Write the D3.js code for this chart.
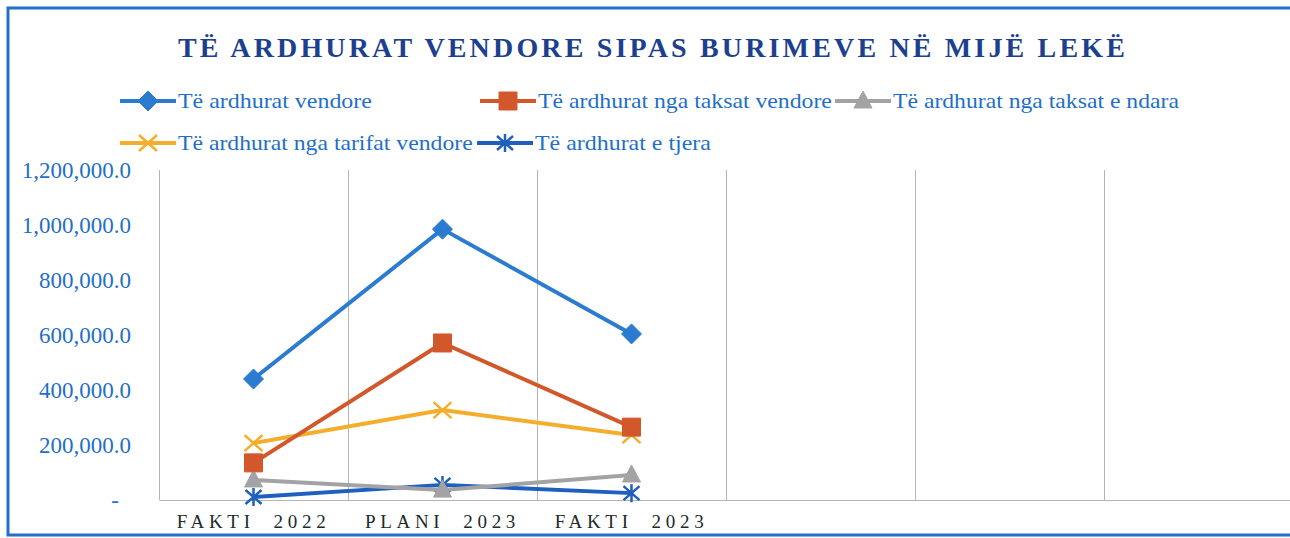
<!DOCTYPE html>
<html>
<head>
<meta charset="utf-8">
<script src="https://cdn.jsdelivr.net/npm/d3@7/dist/d3.min.js"></script>
<style>
  body { margin: 0; background: #fff; }
  svg { display: block; }
  text { font-family: "Liberation Serif", "DejaVu Serif", serif; }
</style>
</head>
<body>
<script>
// categories on the x axis (3 more empty slots follow them in the original)
var categories = ["FAKTI  2022", "PLANI  2023", "FAKTI  2023"];
var emptySlots = 3;

// values in thousand lek
var ardhuratVendore = [440000, 985000, 604000];
var taksatVendore   = [135000, 571000, 265000];
var taksatNdara     = [73000, 36000, 91000];
var tarifatVendore  = [207000, 327000, 236000];
var ardhuratTjera   = [11000, 55000, 25000];

var seriesNames = ["Të ardhurat vendore", "Të ardhurat nga taksat vendore",
                   "Të ardhurat nga taksat e ndara", "Të ardhurat nga tarifat vendore",
                   "Të ardhurat e tjera"];
var yTicks = [0, 200000, 400000, 600000, 800000, 1000000, 1200000];
var title = "TË ARDHURAT VENDORE SIPAS BURIMEVE NË MIJË LEKË";

var width = 1290, height = 538;
var margin = {left: 159, right: -3, top: 170, bottom: 38};

var series = [
  {name: seriesNames[0], values: ardhuratVendore, color: "#2b7bd1", marker: "diamond"},
  {name: seriesNames[1], values: taksatVendore,   color: "#d2582c", marker: "square"},
  {name: seriesNames[2], values: taksatNdara,     color: "#a3a3a6", marker: "triangle"},
  {name: seriesNames[3], values: tarifatVendore,  color: "#f4ae2c", marker: "x"},
  {name: seriesNames[4], values: ardhuratTjera,   color: "#1f5fbd", marker: "star"}
];

// legend layout: [x of the line sample, y, text width]
var legendPos = [[120, 101, 194], [480, 101, 294], [835, 101, 286], [120, 143, 295], [477, 143, 176]];

var svg = d3.select("body").append("svg")
    .attr("width", width)
    .attr("height", height);

// stretch a text to a given width with letter-spacing
function fitWidth(sel, w) {
  var n = sel.text().length;
  var natural = sel.node().getComputedTextLength();
  sel.style("letter-spacing", ((w - natural) / n) + "px");
}

// outer frame
svg.append("rect")
    .attr("x", 8).attr("y", 8)
    .attr("width", 1300).attr("height", 527)
    .attr("fill", "none")
    .attr("stroke", "#2370c8")
    .attr("stroke-width", 3);

var titleText = svg.append("text")
    .attr("x", 178).attr("y", 57)
    .attr("font-weight", "bold")
    .attr("font-size", 28)
    .attr("fill", "#1d3f8f")
    .text(title);
fitWidth(titleText, 950);

var x = d3.scaleBand()
    .domain(d3.range(categories.length + emptySlots))
    .range([margin.left, width - margin.right]);

var y = d3.scaleLinear()
    .domain([0, 1200000])
    .range([height - margin.bottom, margin.top]);

var plotBottom = height - margin.bottom;

// vertical gridlines at category borders
svg.append("g")
    .selectAll("line")
    .data(x.domain())
    .enter()
    .append("line")
    .attr("x1", function(d) { return x(d) + 0.5; })
    .attr("x2", function(d) { return x(d) + 0.5; })
    .attr("y1", margin.top)
    .attr("y2", plotBottom)
    .attr("stroke", "#b4b4b8")
    .attr("stroke-width", 1);

// x axis
var xAxis = d3.axisBottom(x)
    .tickSize(0)
    .tickPadding(15)
    .tickFormat(function(d) { return categories[d] || ""; });

var gx = svg.append("g")
    .attr("transform", "translate(0," + plotBottom + ")")
    .call(xAxis);
gx.select(".domain").attr("stroke", "#b4b4b8");
gx.selectAll("text")
    .attr("font-size", 19)
    .attr("fill", "#1c2a2a")
    .style("white-space", "pre")
    .style("letter-spacing", "4.7px");

// y axis
var yAxis = d3.axisLeft(y)
    .tickValues(yTicks)
    .tickSize(0)
    .tickPadding(28)
    .tickFormat(function(d) { return d === 0 ? "-" : d3.format(",.1f")(d); });

var gy = svg.append("g")
    .attr("transform", "translate(" + margin.left + ",0)")
    .call(yAxis);
gy.select(".domain").remove();
gy.selectAll("text")
    .attr("font-size", 23)
    .attr("fill", "#1f6fc8");
gy.selectAll(".tick").filter(function(d) { return d === 0; })
    .select("text").attr("dx", -12);

function markerPath(type) {
  if (type === "diamond") return "M0,-10L10,0L0,10L-10,0Z";
  if (type === "square") return "M-9,-9H9V9H-9Z";
  if (type === "triangle") return "M0,-10L9,7H-9Z";
  if (type === "x") return "M-9,-8L9,8M-9,8L9,-8";
  return "M0,-9V9M-8,-7L8,7M-8,7L8,-7";
}

function drawMarker(g, type, color) {
  var filled = (type === "diamond" || type === "square" || type === "triangle");
  g.append("path")
      .attr("d", markerPath(type))
      .attr("fill", filled ? color : "none")
      .attr("stroke", color)
      .attr("stroke-width", filled ? 1 : 2.5);
}

var line = d3.line()
    .x(function(d, i) { return x(i) + x.bandwidth() / 2; })
    .y(function(d) { return y(d); });

// draw back-to-front so the total line sits on top
series.slice().reverse().forEach(function(s) {
  var g = svg.append("g");
  g.append("path")
      .datum(s.values)
      .attr("d", line)
      .attr("fill", "none")
      .attr("stroke", s.color)
      .attr("stroke-width", 4)
      .attr("stroke-linejoin", "round");

  g.selectAll(".m")
      .data(s.values)
      .enter()
      .append("g")
      .attr("transform", function(d, i) {
        return "translate(" + (x(i) + x.bandwidth() / 2) + "," + y(d) + ")";
      })
      .each(function() { drawMarker(d3.select(this), s.marker, s.color); });
});

// legend
series.forEach(function(s, i) {
  var p = legendPos[i];
  var g = svg.append("g").attr("transform", "translate(" + p[0] + "," + p[1] + ")");
  g.append("line")
      .attr("x1", 0).attr("x2", 56)
      .attr("stroke", s.color)
      .attr("stroke-width", 4);
  var m = g.append("g").attr("transform", "translate(28,0)");
  drawMarker(m, s.marker, s.color);
  var t = g.append("text")
      .attr("y", 7)
      .attr("font-size", 21)
      .attr("fill", "#1f6fc8")
      .text(s.name);
  // the scan is a bit wider than the font, so stretch it sideways
  var k = p[2] / t.node().getComputedTextLength();
  t.attr("transform", "translate(58,0) scale(" + k + ",1)");
});
</script>
</body>
</html>
